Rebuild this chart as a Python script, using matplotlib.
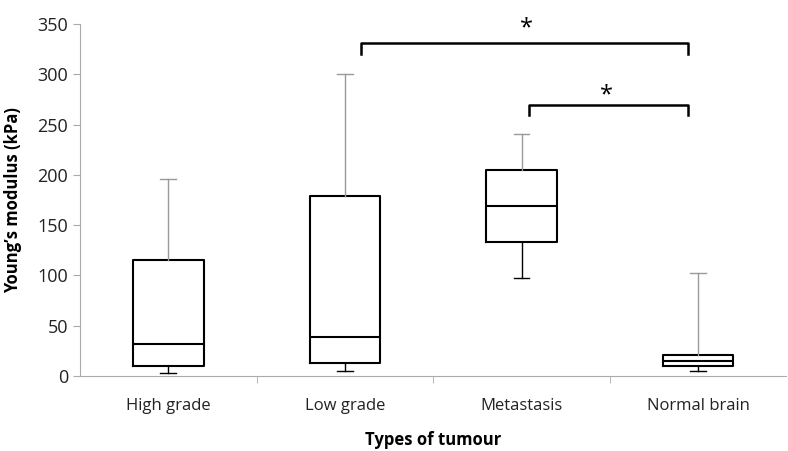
import matplotlib.pyplot as plt

# box statistics (kPa)
categories = ["High grade", "Low grade", "Metastasis", "Normal brain"]
whislo = [3, 5, 98, 5]
q1 = [10, 13, 133, 10]
med = [32, 39, 169, 15]
q3 = [115, 179, 205, 21]
whishi = [196, 300, 241, 102]

plt.rcParams['font.family'] = ['Open Sans', 'DejaVu Sans']

fig = plt.figure(figsize=(7.88, 4.51), dpi=100)
ax = fig.add_axes([0.1015, 0.166, 0.8965, 0.781])

stats = []
for i in range(len(categories)):
    stats.append(dict(label=categories[i], whislo=whislo[i], q1=q1[i],
                      med=med[i], q3=q3[i], whishi=whishi[i], fliers=[]))

pos = list(range(len(categories)))
bp = ax.bxp(stats, positions=pos, widths=0.4, showfliers=False,
            boxprops=dict(color="black", linewidth=1.5),
            medianprops=dict(color="black", linewidth=1.5),
            whiskerprops=dict(color="black", linewidth=1),
            capprops=dict(color="black", linewidth=1), capwidths=0.09)

# upper whiskers are grey in the original
for i in range(len(categories)):
    bp['whiskers'][2 * i + 1].set_color("#999999")
    bp['caps'][2 * i + 1].set_color("#999999")

ax.set_xlim(-0.5, len(categories) - 0.5)
ax.set_ylim(0, 350)
ax.set_yticks(range(0, 351, 50))
ax.set_xticks(pos)
ax.set_xticklabels(categories, fontsize=12, color="#222222")
ax.tick_params(axis='x', length=0, pad=16)
ax.set_xticks([0.5, 1.5, 2.5], minor=True)
ax.tick_params(axis='x', which='minor', length=5, color="#aaaaaa", direction='out')
ax.tick_params(axis='y', length=5, color="#aaaaaa", labelsize=13, labelcolor="#222222")

for s in ["top", "right"]:
    ax.spines[s].set_visible(False)
ax.spines["left"].set_color("#aaaaaa")
ax.spines["bottom"].set_color("#aaaaaa")

ax.set_ylabel("Young\u2019s modulus (kPa)", fontsize=12, fontweight="bold", labelpad=11)
ax.set_xlabel("Types of tumour", fontsize=12, fontweight="bold", labelpad=12)

# significance brackets
def bracket(x0, x1, y, h, ytxt, xtxt):
    ax.plot([x0, x0, x1, x1], [y - h, y, y, y - h], color="black", lw=1.8,
            clip_on=False, solid_joinstyle='round')
    ax.text(xtxt, ytxt, "*", ha="center", va="center", fontsize=17, clip_on=False)

bracket(1.09, 2.94, 331, 11, 346, 2.03)
bracket(2.045, 2.94, 269, 10, 279, 2.48)

fig.savefig("out.png")
